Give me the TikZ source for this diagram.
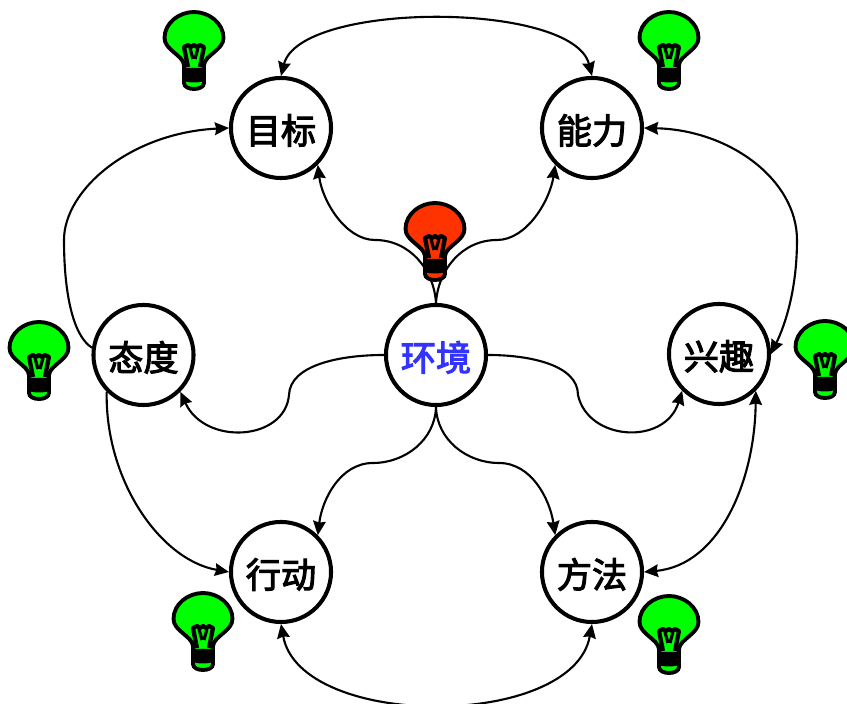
\documentclass[tikz,border=0pt]{standalone}
\usepackage{fontspec}
\usepackage{xcolor}
\usetikzlibrary{arrows.meta}
\setmainfont[FakeBold=3]{Noto Sans CJK SC}
\definecolor{bulbgreen}{RGB}{0,255,0}
\definecolor{bulbred}{RGB}{255,51,0}
\definecolor{envblue}{RGB}{51,51,255}
\tikzset{
  topic/.style={circle,draw,line width=1.15pt,minimum size=1.0cm,inner sep=0pt,text height=9pt,text depth=0pt,font=\fontsize{10pt}{10pt}\selectfont},
  link/.style={line width=0.6pt,>={Stealth[length=4pt,width=3.6pt,inset=0.4pt]}},
  pics/bulb/.style={code={
    \begin{scope}[yscale=-1]
    \draw[fill=#1,line width=1.1pt] (-10,-45) -- (-10,-27) .. controls (-11,-17) and (-29.5,-12) .. (-29.5,0)
      .. controls (-29.5,15) and (-15,26) .. (0,26) .. controls (15,26) and (29.5,15) .. (29.5,0)
      .. controls (29.5,-12) and (11,-17) .. (10,-27) -- (10,-45) .. controls (10,-49) and (5,-51) .. (0,-51)
      .. controls (-5,-51) and (-10,-49) .. (-10,-45) -- cycle;
    \fill (-10,-30) -- (10,-30) -- (10,-43) .. controls (5,-45) and (-5,-45) .. (-10,-43) -- cycle;
    \draw[line width=1.2pt,line join=round] (-6,-29) -- (-10,-9) -- (-6,-7) -- (-3,-9) -- (0,-7) -- (3,-9) -- (6,-7) -- (10,-9) -- (6,-29);
    \draw[line width=0.9pt] (-1,-21) -- (-4,-10) (1,-21) -- (4,-10);
    \end{scope}
  }}
}
\begin{document}
\begin{tikzpicture}[x=0.01cm,y=-0.01cm]
\useasboundingbox (0,0) rectangle (847,704);
% topics
\node[topic] (mubiao) at (281,128) {目标};
\node[topic] (nengli) at (592,128) {能力};
\node[topic] (taidu) at (143.5,355) {态度};
\node[topic,text=envblue] (huanjing) at (436,355) {环境};
\node[topic] (xingqu) at (719,354) {兴趣};
\node[topic] (xingdong) at (281,572) {行动};
\node[topic] (fangfa) at (592,572) {方法};
% links
\draw[link,<->] (mubiao.north) .. controls (300,1) and (573,1) .. (nengli.north);
\draw[link,<->] (xingdong.south) .. controls (300,730) and (573,730) .. (fangfa.south);
\draw[link,->] (taidu.172) .. controls (72,335) and (64,290) .. (64,240) .. controls (64,190) and (130,133) .. (mubiao.west);
\draw[link,<->] (nengli.east) .. controls (730,130) and (797,180) .. (797,240) .. controls (797,290) and (785,325) .. (xingqu.east);
\draw[link,->] (huanjing.north) .. controls (434,270) and (410,240) .. (375,240) .. controls (345,240) and (322,200) .. (mubiao.south east);
\draw[link,->] (huanjing.north) .. controls (438,270) and (462,240) .. (497,240) .. controls (527,240) and (550,200) .. (nengli.south west);
\draw[link,->] (huanjing.west) .. controls (340,355) and (290,365) .. (289,395) .. controls (285,441) and (205,446) .. (taidu.south east);
\draw[link,->] (huanjing.east) .. controls (530,355) and (578,365) .. (578,395) .. controls (588,441) and (665,446) .. (xingqu.south west);
\draw[link,->] (huanjing.south) .. controls (435,440) and (405,463) .. (373,463) .. controls (340,463) and (322,500) .. (xingdong.north east);
\draw[link,->] (huanjing.south) .. controls (437,440) and (467,463) .. (499,463) .. controls (532,463) and (550,500) .. (fangfa.north west);
\draw[link,->] (taidu.south west) .. controls (105,480) and (160,560) .. (xingdong.west);
\draw[link,<->] (xingqu.south east) .. controls (755,480) and (720,565) .. (fangfa.east);
% bulbs
\pic at (194,38) {bulb=bulbgreen};
\pic at (669,38) {bulb=bulbgreen};
\pic at (39,348) {bulb=bulbgreen};
\pic at (825,347) {bulb=bulbgreen};
\pic at (203,619) {bulb=bulbgreen};
\pic at (669,622) {bulb=bulbgreen};
\pic at (435,229) {bulb=bulbred};
\end{tikzpicture}
\end{document}
